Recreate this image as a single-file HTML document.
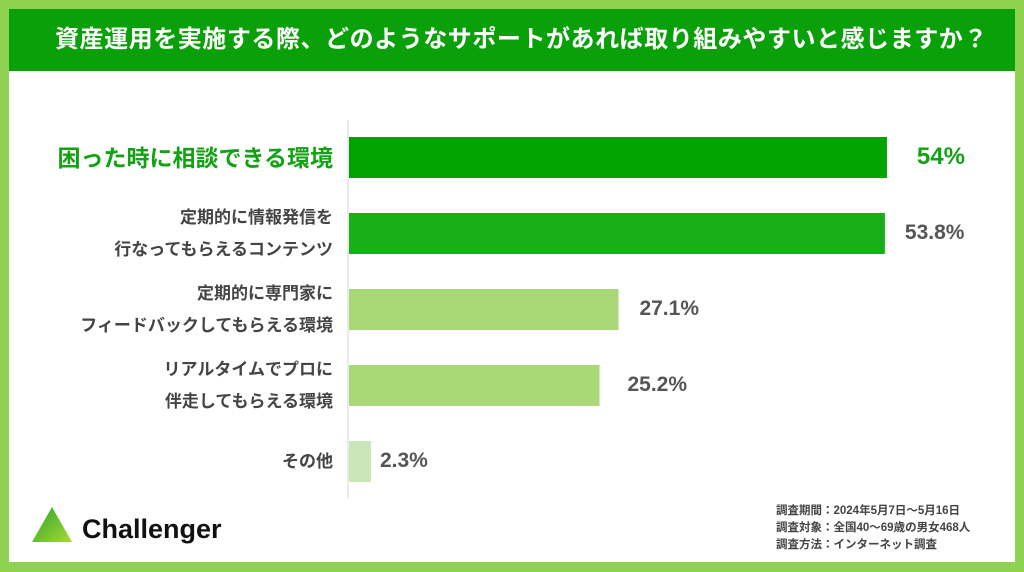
<!DOCTYPE html>
<html><head><meta charset="utf-8"><style>
body{margin:0;width:1024px;height:572px;overflow:hidden;background:#fff;font-family:"Liberation Sans","Noto Sans CJK JP",sans-serif}
#frame{position:absolute;left:0;top:0;width:1024px;height:572px;box-sizing:border-box;border:9px solid #8fd150;border-top-width:9px;border-bottom-width:10px;background:#fff}
#header{position:absolute;left:9px;top:9px;width:1006px;height:62px;background:#0aa00a;color:#fff;font-size:24px;font-weight:bold;line-height:62px;padding-left:46px;box-sizing:border-box;letter-spacing:0.55px;white-space:nowrap;overflow:hidden}
.cat{position:absolute;right:691px;text-align:right;color:#444;font-size:17px;font-weight:bold;line-height:32px;white-space:nowrap}
.val{position:absolute;font-weight:bold;font-size:21px;color:#555}
#logo{position:absolute;left:32px;top:505px}
#note{position:absolute;left:776px;top:503px;font-size:11.5px;line-height:17px;color:#444;font-weight:bold}
</style></head><body>
<div id="frame"></div>
<div id="header">資産運用を実施する際、どのようなサポートがあれば取り組みやすいと感じますか？</div>
<svg id="chart" width="1024" height="572" style="position:absolute;left:0;top:0"></svg>
<div id="labels"></div>
<div id="logo">
<svg width="200" height="40"><defs><linearGradient id="g" x1="0" y1="0" x2="1" y2="1"><stop offset="0" stop-color="#2aa52a"/><stop offset="1" stop-color="#a8d838"/></linearGradient></defs><polygon points="20,2 40,37 0,37" fill="url(#g)"/><text x="50" y="33" font-size="27" font-weight="bold" fill="#111" font-family="Liberation Sans, sans-serif">Challenger</text></svg></div>
<div id="note">調査期間：2024年5月7日～5月16日<br>調査対象：全国40～69歳の男女468人<br>調査方法：インターネット調査</div>
<script>
const categories=[["困った時に相談できる環境"],["定期的に情報発信を","行なってもらえるコンテンツ"],["定期的に専門家に","フィードバックしてもらえる環境"],["リアルタイムでプロに","伴走してもらえる環境"],["その他"]];
const values=[54,53.8,27.1,25.2,2.3];
const valueLabels=["54%","53.8%","27.1%","25.2%","2.3%"];
const colors=["#00a300","#18b018","#a8d878","#a8d878","#c8e6b8"];
const x0=348,pxPer=9.98,yTop=137,step=76,bh=41;
const xs=v=>x0+v*pxPer, ys=i=>yTop+i*step;
const svg=document.getElementById('chart'),NS='http://www.w3.org/2000/svg';
const ax=document.createElementNS(NS,'line');
ax.setAttribute('x1',x0);ax.setAttribute('x2',x0);ax.setAttribute('y1',120);ax.setAttribute('y2',498);
ax.setAttribute('stroke','#e4e4e4');ax.setAttribute('stroke-width','1.5');


svg.appendChild(ax);
const L=document.getElementById('labels');
const offs=[30,20,21,28,9];
values.forEach((v,i)=>{
 const r=document.createElementNS(NS,'rect');
 r.setAttribute('x',x0+1);r.setAttribute('y',ys(i));r.setAttribute('width',xs(v)-x0-1);r.setAttribute('height',bh);r.setAttribute('fill',colors[i]);
 
 
 svg.appendChild(r);
 const c=document.createElement('div');c.className='cat';
 
 
 c.innerHTML=categories[i].join('<br>');
 const n=categories[i].length;
 c.style.top=(ys(i)+bh/2-n*16)+'px';
 if(i===0){c.style.color='#13a213';c.style.fontSize='23px';}
 L.appendChild(c);
 const t=document.createElement('div');t.className='val';
 
 
 t.textContent=valueLabels[i];
 t.style.top=(ys(i)+bh/2-13)+'px';
 t.style.left=(xs(v)+offs[i])+'px';
 if(i===0){t.style.color='#13a213';t.style.fontSize='24px';t.style.top=(ys(i)+bh/2-15)+'px';}
 L.appendChild(t);
});
</script>
</body></html>
